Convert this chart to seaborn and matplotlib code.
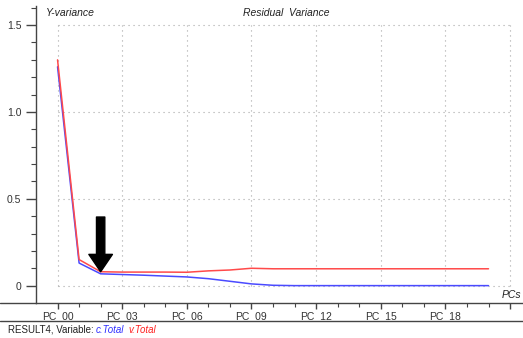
import matplotlib
matplotlib.use("Agg")
import matplotlib.pyplot as plt
from matplotlib.lines import Line2D
import seaborn as sns
import pandas as pd
import numpy as np

# Residual Y-variance per number of principal components
pcs = list(range(21))
c_total = [1.26, 0.13, 0.068, 0.064, 0.060, 0.055, 0.050, 0.040, 0.025, 0.010,
           0.002, 0.0, 0.0, 0.0, 0.0, 0.0, 0.0, 0.0, 0.0, 0.0, 0.0]
v_total = [1.30, 0.15, 0.080, 0.078, 0.078, 0.078, 0.077, 0.085, 0.090, 0.100,
           0.097, 0.097, 0.097, 0.097, 0.097, 0.097, 0.097, 0.097, 0.097, 0.097, 0.097]
series_names = ["c.Total", "v.Total"]
series_colors = ["#4a4aff", "#ff4a4a"]
tick_pcs = [0, 3, 6, 9, 12, 15, 18, 21]
tick_labels = ["PC_00", "PC_03", "PC_06", "PC_09", "PC_12", "PC_15", "PC_18", ""]
y_ticks = [0, 0.5, 1.0, 1.5]
y_labels = ["0", "0.5", "1.0", "1.5"]
marked_pc = 2

sns.set_theme(style="white")
plt.rcParams["font.family"] = ["Liberation Sans", "DejaVu Sans"]

df = pd.DataFrame({
    "PC": pcs * 2,
    "variance": c_total + v_total,
    "series": [series_names[0]] * len(pcs) + [series_names[1]] * len(pcs),
})

fig = plt.figure(figsize=(5.23, 3.38), dpi=100)
ax = fig.add_axes([36 / 523, 35 / 338, 487 / 523, 297 / 338])

# dotted grid box from PC_00 to PC_21 and 0 to 1.5
grid_kw = dict(color="#a8a8a8", linestyle=(0, (1, 3.5)), linewidth=0.8, zorder=0)
ax.hlines(y_ticks, tick_pcs[0], tick_pcs[-1], **grid_kw)
ax.vlines(tick_pcs, y_ticks[0], y_ticks[-1], **grid_kw)

sns.lineplot(data=df, x="PC", y="variance", hue="series", hue_order=series_names,
             palette=series_colors, linewidth=1.1, legend=False, ax=ax, zorder=3)

ax.set_xlim(-1, 21.6)
ax.set_ylim(-0.1, 1.61)
ax.set_xlabel("")
ax.set_ylabel("")

for side in ["top", "right"]:
    ax.spines[side].set_visible(False)
for side in ["left", "bottom"]:
    ax.spines[side].set_color("#444444")
    ax.spines[side].set_linewidth(1.0)

ax.set_xticks(tick_pcs)
ax.set_xticklabels(tick_labels)
ax.set_xticks(pcs, minor=True)
ax.set_yticks(y_ticks)
ax.set_yticklabels(y_labels)
ax.set_yticks(np.arange(0, 1.61, 0.1), minor=True)
ax.tick_params(axis="both", which="major", length=7, width=1.0, color="#444444",
               labelsize=7.5, labelcolor="#333333", bottom=True, left=True)
ax.tick_params(axis="both", which="minor", length=3.5, width=0.8, color="#444444",
               bottom=True, left=True)
ax.tick_params(axis="x", which="major", length=4, pad=2)
ax.tick_params(axis="x", which="minor", length=3)

# arrow marking the chosen number of components
ax.annotate("", xy=(marked_pc, v_total[marked_pc]), xytext=(marked_pc, 0.395),
            arrowprops=dict(arrowstyle="simple,head_length=1.25,head_width=1.7,tail_width=0.6",
                            color="black", mutation_scale=10, shrinkA=0, shrinkB=0),
            zorder=5)

ax.text(-0.55, 1.57, "Y-variance", fontsize=7.5, style="italic", color="#222222",
        ha="left", va="center")
ax.text(10.6, 1.57, "Residual  Variance", fontsize=7.5, style="italic", color="#222222",
        ha="center", va="center")
ax.text(21.5, -0.055, "PCs", fontsize=7.5, style="italic", color="#222222",
        ha="right", va="center")

# full-width rules framing the axis labels
fig.add_artist(Line2D([0, 36 / 523], [35 / 338, 35 / 338], color="#444444", linewidth=1.0))
fig.add_artist(Line2D([0, 1], [17 / 338, 17 / 338], color="#444444", linewidth=1.0))

fig.text(8 / 523, 8 / 338, "RESULT4, Variable:", fontsize=7, color="#222222",
         ha="left", va="center")
fig.text(96 / 523, 8 / 338, series_names[0], fontsize=7, style="italic",
         color="#3030ff", ha="left", va="center")
fig.text(128 / 523, 8 / 338, series_names[1], fontsize=7, style="italic",
         color="#ff2020", ha="left", va="center")

fig.savefig("out.png", dpi=100)
